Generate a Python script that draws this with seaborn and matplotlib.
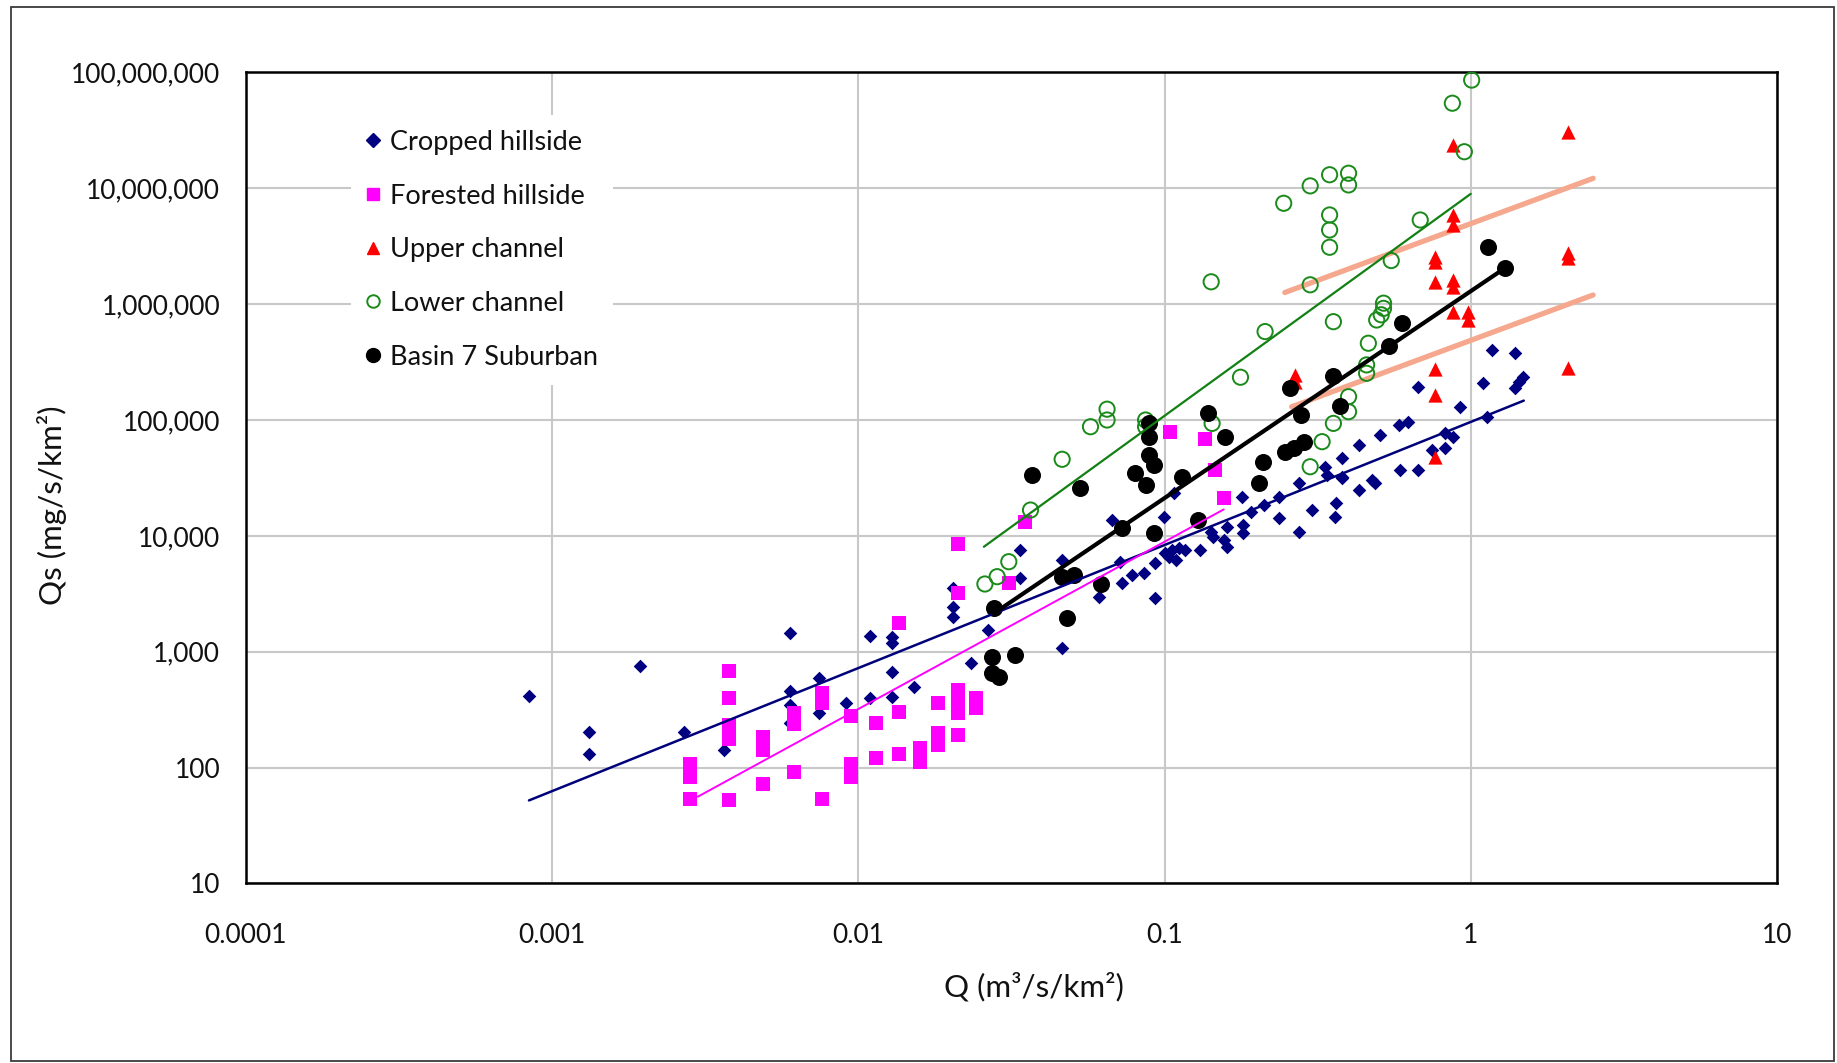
import numpy as np
import pandas as pd
import matplotlib
matplotlib.use("Agg")
import matplotlib.pyplot as plt
import seaborn as sns
from matplotlib.lines import Line2D
from matplotlib.patches import Rectangle
from matplotlib.ticker import FixedLocator, FuncFormatter, NullLocator

# ─────────────────────────────────────────────
# Data
# ─────────────────────────────────────────────
cropped_q = [0.00084, 0.00132, 0.00132, 0.00194, 0.00270, 0.00363, 0.00598, 0.00598,
             0.00598, 0.00598, 0.00745, 0.00745, 0.0091, 0.01089, 0.01089, 0.0129,
             0.0129, 0.0129, 0.0129, 0.0152, 0.0203, 0.0203, 0.0203, 0.0234,
             0.0265, 0.0337, 0.0337, 0.0463, 0.0463, 0.0610, 0.0675, 0.0726,
             0.0783, 0.0855, 0.0718, 0.0929, 0.0929, 0.0993, 0.1007, 0.1059,
             0.1112, 0.1169, 0.1086, 0.1033, 0.1072, 0.1309, 0.1445, 0.1413,
             0.160, 0.156, 0.160, 0.179, 0.181, 0.181, 0.211, 0.236,
             0.236, 0.274, 0.303, 0.274, 0.335, 0.339, 0.361, 0.379,
             0.379, 0.364, 0.191, 0.379, 0.430, 0.430, 0.475, 0.488,
             0.504, 0.581, 0.625, 0.587, 0.675, 0.824, 0.877, 0.824,
             0.746, 1.127, 0.675, 0.923, 1.099, 1.169, 1.390, 1.390,
             1.442, 1.479]
cropped_qs = [414, 203, 130, 752, 203, 141, 1439, 459,
              346, 240, 587, 293, 362, 1371, 395, 1346,
              1180, 671, 408, 492, 2443, 2004, 3524, 792,
              1538, 7534, 4295, 6180, 1067, 2979, 13680, 3890,
              4590, 4740, 5980, 2884, 5780, 14620, 7060, 7550,
              7800, 7550, 6180, 6610, 23280, 7550, 9820, 10840,
              8050, 9200, 12000, 21780, 12390, 10520, 18450, 21780,
              14160, 28380, 16710, 10840, 39540, 33500, 14620, 46670,
              32360, 19190, 16140, 31400, 60810, 24830, 30340, 28770,
              74130, 90570, 96600, 36980, 36980, 76740, 71780, 57020,
              55080, 106900, 194100, 130300, 207500, 402700, 376700, 187900,
              214300, 237100]

forested_q = [0.00281, 0.00281, 0.00281, 0.00379, 0.00379, 0.00379, 0.00379, 0.00379,
              0.0049, 0.0049, 0.0049, 0.00618, 0.00618, 0.00618, 0.0076, 0.0076,
              0.0076, 0.00944, 0.00944, 0.00944, 0.01138, 0.01138, 0.01358, 0.01358,
              0.01358, 0.01585, 0.01585, 0.0182, 0.0182, 0.0182, 0.0212, 0.0212,
              0.0212, 0.0212, 0.0212, 0.0212, 0.0242, 0.0242, 0.0310, 0.0350,
              0.1045, 0.1358, 0.1466, 0.156]
forested_qs = [108, 83, 53, 684, 395, 232, 178, 52,
               182, 141, 72, 293, 237, 91, 437, 358,
               53, 278, 108, 83, 243, 120, 1778, 299,
               132, 146, 112, 358, 197, 156, 8490, 3184,
               466, 382, 293, 191, 395, 324, 3890, 13240,
               79250, 68080, 36980, 21090]

upper_q = [2.08, 0.877, 0.877, 0.877, 0.766, 0.766, 2.08, 2.08, 0.766, 0.877,
           0.877, 0.877, 0.982, 0.982, 0.766, 2.08, 0.267, 0.267, 0.766, 0.766]
upper_qs = [3.09e7, 2.37e7, 5.9e6, 4.8e6, 2.57e6, 2.33e6, 2.75e6, 2.49e6, 1.56e6, 1.62e6,
            1.42e6, 8.6e5, 8.6e5, 7.3e5, 2.74e5, 2.8e5, 2.45e5, 2.14e5, 1.64e5, 4.82e4]

lower_q = [1.007, 0.871, 0.953, 0.346, 0.399, 0.399, 0.299, 0.245, 0.346, 0.346,
           0.346, 0.684, 0.55, 0.299, 0.519, 0.519, 0.510, 0.493, 0.356, 0.213,
           0.463, 0.457, 0.457, 0.399, 0.399, 0.356, 0.327, 0.299, 0.142, 0.177,
           0.0649, 0.0649, 0.0573, 0.0867, 0.0867, 0.143, 0.0463, 0.0365, 0.031, 0.0284,
           0.0259]
lower_qs = [8.6e7, 5.43e7, 2.07e7, 1.31e7, 1.35e7, 1.07e7, 1.05e7, 7.43e6, 5.89e6, 4.37e6,
            3.10e6, 5.33e6, 2.38e6, 1.47e6, 1.02e6, 9.2e5, 8.1e5, 7.3e5, 7.06e5, 5.8e5,
            4.6e5, 2.99e5, 2.53e5, 1.59e5, 1.18e5, 9.35e4, 6.5e4, 3.95e4, 1.56e6, 2.34e5,
            1.24e5, 1.0e5, 8.75e4, 1.0e5, 8.75e4, 9.35e4, 4.58e4, 1.67e4, 5980, 4440,
            3840]

basin_q = [0.0368, 0.0531, 0.080, 0.0867, 0.0893, 0.0893, 0.0893, 0.0923, 0.114, 0.139,
           0.157, 0.209, 0.203, 0.248, 0.264, 0.286, 0.279, 0.257, 0.374, 0.0726,
           0.0923, 0.129, 0.0463, 0.0506, 0.0622, 0.0481, 0.0277, 0.0274, 0.0326, 0.0274,
           0.0288, 1.14, 1.29, 0.598, 0.541, 0.356]
basin_qs = [33500, 25700, 35100, 27500, 94900, 71800, 49900, 40800, 32400, 114000,
            71800, 43600, 28800, 53200, 57000, 65000, 110000, 188000, 132000, 11600,
            10600, 13700, 4440, 4590, 3840, 1940, 2370, 904, 935, 658,
            607, 3.14e6, 2.04e6, 6.84e5, 4.37e5, 2.4e5]

# trend lines (end points as drawn)
cropped_fit_q, cropped_fit_qs = [0.00084, 1.49], [52, 147000]
forested_fit_q, forested_fit_qs = [0.00299, 0.156], [56, 16900]
lower_fit_q, lower_fit_qs = [0.0257, 1.0], [8050, 8.96e6]
basin_fit_q, basin_fit_qs = [0.0277, 1.29], [2140, 2.04e6]
band_hi_q, band_hi_qs = [0.247, 2.51], [1.26e6, 1.22e7]
band_lo_q, band_lo_qs = [0.26, 2.51], [1.3e5, 1.2e6]

x_ticks = [1e-4, 1e-3, 1e-2, 1e-1, 1, 10]
y_ticks = [10, 100, 1e3, 1e4, 1e5, 1e6, 1e7, 1e8]

# series styling
SERIES = [
    ("Cropped hillside", cropped_q, cropped_qs, dict(marker="D", s=48, color="#000080", linewidth=0)),
    ("Forested hillside", forested_q, forested_qs, dict(marker="s", s=110, color="#FF00FF", linewidth=0)),
    ("Upper channel", upper_q, upper_qs, dict(marker="^", s=105, color="#FF0000", linewidth=0)),
    ("Lower channel", lower_q, lower_qs, dict(marker="o", s=120, facecolor="none",
                                              edgecolor="#1A8A1A", linewidth=1.4)),
    ("Basin 7 Suburban", basin_q, basin_qs, dict(marker="o", s=150, color="#000000", linewidth=0)),
]

df = pd.concat(
    [pd.DataFrame({"Q": q, "Qs": qs, "series": name}) for name, q, qs, _ in SERIES],
    ignore_index=True,
)

# ─────────────────────────────────────────────
# Plot
# ─────────────────────────────────────────────
sns.set_style("white")
plt.rcParams["font.family"] = ["Lato", "DejaVu Sans"]

fig = plt.figure(figsize=(18.37, 10.63), dpi=100)
ax = fig.add_axes([0.1339, 0.1690, 0.8334, 0.7628])
ax.set_xscale("log")
ax.set_yscale("log")

# salmon band lines sit behind the points
for q, qs in [(band_hi_q, band_hi_qs), (band_lo_q, band_lo_qs)]:
    sns.lineplot(x=q, y=qs, ax=ax, color="#F5A88E", linewidth=3.8, zorder=2)

for name, _, _, style in SERIES:
    sns.scatterplot(data=df[df["series"] == name], x="Q", y="Qs", ax=ax,
                    zorder=3, legend=False, **style)

fits = [
    (cropped_fit_q, cropped_fit_qs, "#00007A", 1.8),
    (forested_fit_q, forested_fit_qs, "#FF00FF", 1.4),
    (lower_fit_q, lower_fit_qs, "#128012", 1.6),
    (basin_fit_q, basin_fit_qs, "#000000", 3.0),
]
for q, qs, c, lw in fits:
    sns.lineplot(x=q, y=qs, ax=ax, color=c, linewidth=lw, zorder=4)

ax.set_xlim(1e-4, 10)
ax.set_ylim(10, 1e8)

ax.xaxis.set_major_locator(FixedLocator(x_ticks))
ax.yaxis.set_major_locator(FixedLocator(y_ticks))
ax.xaxis.set_minor_locator(NullLocator())
ax.yaxis.set_minor_locator(NullLocator())
ax.xaxis.set_major_formatter(FuncFormatter(lambda v, p: f"{v:g}"))
ax.yaxis.set_major_formatter(FuncFormatter(lambda v, p: f"{v:,.0f}"))

ax.grid(True, which="major", color="#C8C8C8", linewidth=1.5)
ax.set_axisbelow(True)
for sp in ax.spines.values():
    sp.set_color("black")
    sp.set_linewidth(1.8)

ax.tick_params(axis="both", which="major", direction="out", length=8.5, width=1.6,
               color="black", labelsize=19, labelcolor="#111111")
ax.tick_params(axis="y", pad=10)
ax.tick_params(axis="x", pad=20)

ax.set_xlabel("Q (m³/s/km²)", fontsize=22.5, color="#111111")
ax.set_ylabel("Qs (mg/s/km²)", fontsize=22.5, color="#111111")
ax.xaxis.set_label_coords(0.5147, -0.109)
ax.yaxis.set_label_coords(-0.117, 0.4667)

# legend
handles = [
    Line2D([], [], linestyle="none", marker="D", markersize=7, color="#000080"),
    Line2D([], [], linestyle="none", marker="s", markersize=9, color="#FF00FF"),
    Line2D([], [], linestyle="none", marker="^", markersize=9, color="#FF0000"),
    Line2D([], [], linestyle="none", marker="o", markersize=9, markerfacecolor="none",
           markeredgecolor="#1A8A1A", markeredgewidth=1.4),
    Line2D([], [], linestyle="none", marker="o", markersize=10, color="#000000"),
]
labels = [name for name, _, _, _ in SERIES]
leg = ax.legend(handles, labels, loc="upper left", bbox_to_anchor=(0.0686, 0.9477),
                borderaxespad=0, frameon=True, fancybox=False, framealpha=1,
                facecolor="white", edgecolor="none", fontsize=19.5,
                handlelength=0.5, handletextpad=0.4, borderpad=0.55, labelspacing=1.06)
for t in leg.get_texts():
    t.set_color("#111111")

# outer frame round the whole chart
fig.patches.append(Rectangle((0.006, 0.002), 0.9925, 0.9914, transform=fig.transFigure,
                             fill=False, edgecolor="#3A3A3A", linewidth=1.3))

fig.savefig("out.png", dpi=100)
plt.close(fig)
